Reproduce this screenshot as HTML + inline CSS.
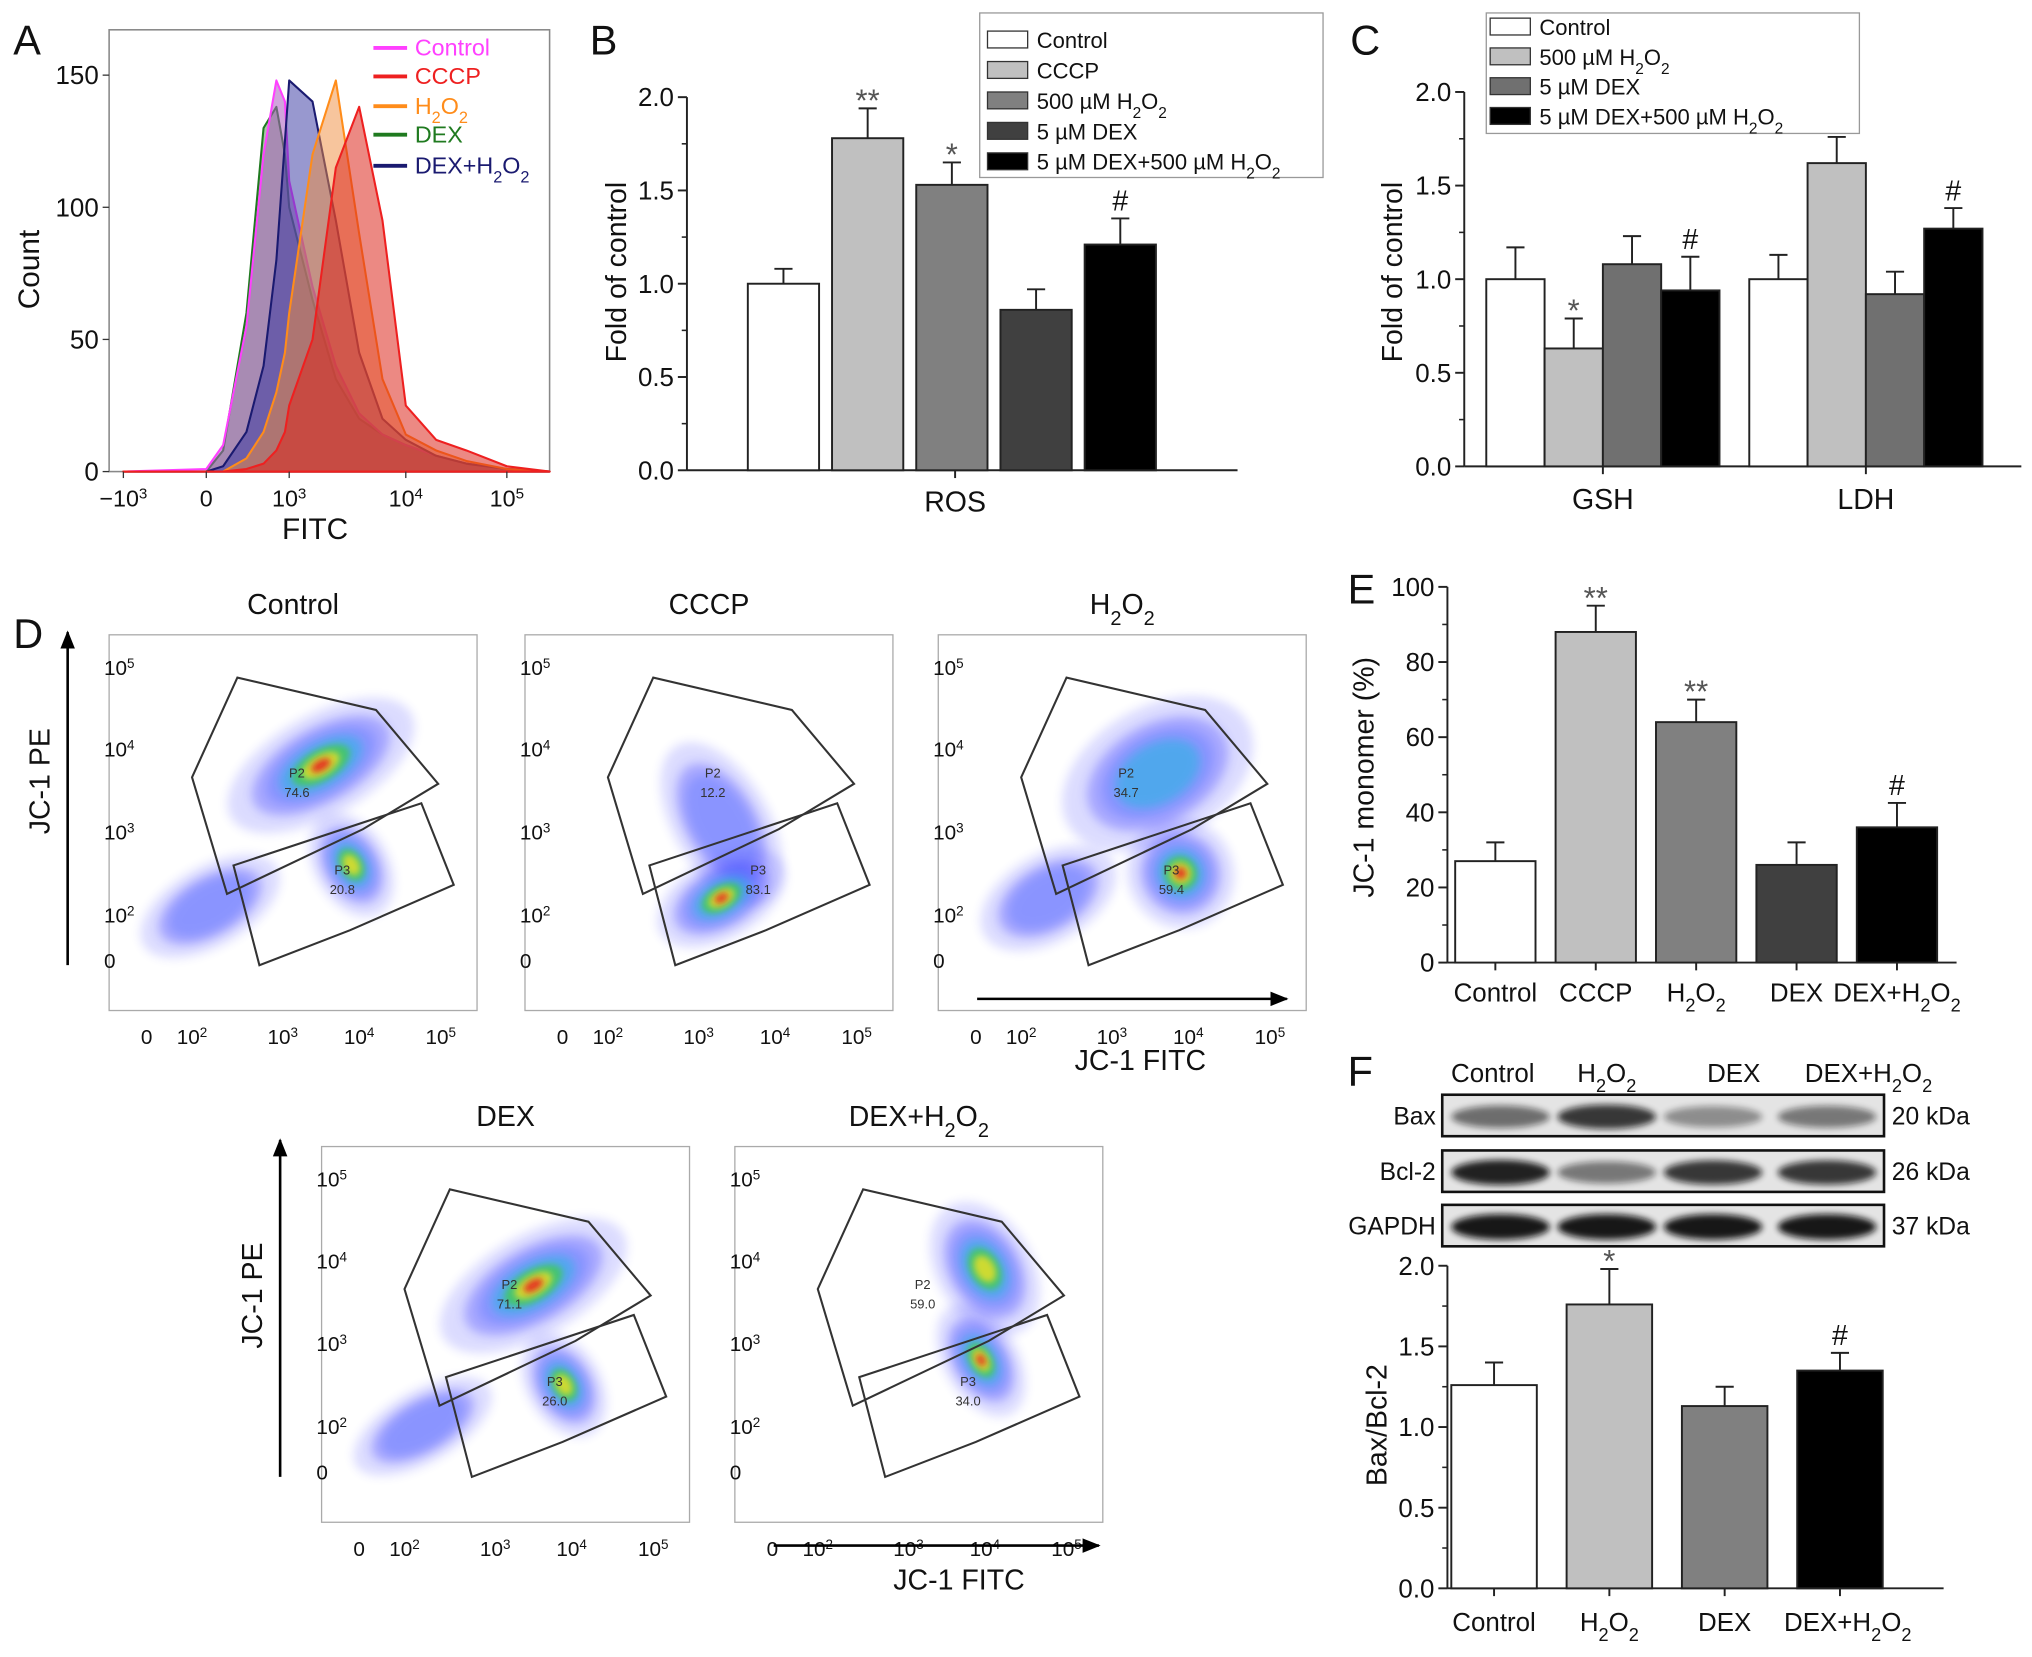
<!DOCTYPE html>
<html><head><meta charset="utf-8"><style>
html,body{margin:0;padding:0;background:#fff;}
svg{display:block;font-family:"Liberation Sans",Arial,sans-serif;}
</style></head>
<body>
<svg id="fig" width="2032" height="1657" viewBox="0 0 1568 1279" xmlns="http://www.w3.org/2000/svg">
<defs>
<filter id="blur2" x="-50%" y="-50%" width="200%" height="200%"><feGaussianBlur stdDeviation="2.5"/></filter>
<filter id="blur4" x="-50%" y="-50%" width="200%" height="200%"><feGaussianBlur stdDeviation="4"/></filter>
<marker id="arr" viewBox="0 0 10 10" refX="9" refY="5" markerWidth="7" markerHeight="7" orient="auto"><path d="M0,1 L10,5 L0,9 z" fill="#000"/></marker>
</defs>
</svg>
<script>
// ---------- Panel A data ----------
const aGridU = [-1,0,1,2,2.4,2.7,2.9,3.0,3.2,3.4,3.6,3.8,4.0,4.3,4.6,5.0,5.45];
const aSeriesNames = ['DEX','Control','DEX+H2O2','H2O2','CCCP'];
const aDex   = [0,0,8,60,130,138,120,100,65,35,20,14,10,6,3,1,0];
const aCtrl  = [0,1,10,55,120,148,140,110,70,40,22,14,10,6,3,1,0];
const aDexH  = [0,0,2,15,40,80,125,148,140,95,45,20,12,6,3,1,0];
const aH2O2  = [0,0,0,5,15,30,45,60,120,148,90,35,14,8,4,1,0];
const aCccp  = [0,0,0,1,3,8,15,25,50,115,138,95,25,12,8,2,0];
const aYTicks = [0,50,100,150];
const aXTickU = [-1,0,3,4,5];
const aXTickLabels = ['\u221210<tspan baseline-shift="super" font-size="65%">3</tspan>','0','10<tspan baseline-shift="super" font-size="65%">3</tspan>','10<tspan baseline-shift="super" font-size="65%">4</tspan>','10<tspan baseline-shift="super" font-size="65%">5</tspan>'];
// ---------- Panel B data ----------
const bCategories = ['Control','CCCP','500 µM H2O2','5 µM DEX','5 µM DEX+500 µM H2O2'];
const bValues = [1.0,1.78,1.53,0.86,1.21];
const bErrors = [0.08,0.16,0.12,0.11,0.14];
const bMarks  = ['','**','*','','#'];
const bYTicks = [0,0.5,1.0,1.5,2.0];
// ---------- Panel C data ----------
const cGroups = ['GSH','LDH'];
const cValues = [[1.0,0.63,1.08,0.94],[1.0,1.62,0.92,1.27]];
const cErrors = [[0.17,0.16,0.15,0.18],[0.13,0.14,0.12,0.11]];
const cMarks  = [['','*','','#'],['','*','','#']];
const cYTicks = [0,0.5,1.0,1.5,2.0];
// ---------- Panel E data ----------
const eCategories = ['Control','CCCP','H2O2','DEX','DEX+H2O2'];
const eValues = [27,88,64,26,36];
const eErrors = [5,7,6,6,6.5];
const eMarks  = ['','**','**','','#'];
const eYTicks = [0,20,40,60,80,100];
// ---------- Panel F data ----------
const fCategories = ['Control','H2O2','DEX','DEX+H2O2'];
const fValues = [1.26,1.76,1.13,1.35];
const fErrors = [0.14,0.22,0.12,0.11];
const fMarks  = ['','*','','#'];
const fYTicks = [0,0.5,1.0,1.5,2.0];
const fBax   = [0.55,0.8,0.4,0.5];
const fBcl2  = [0.9,0.5,0.8,0.8];
const fGapdh = [0.95,0.95,0.95,0.95];
// ---------- Panel D data (cluster: xDecade, yDecade, spreadX, spreadY, density) ----------
const dTitles = ['Control','CCCP','H2O2','DEX','DEX+H2O2'];
const dP2 = ['74.6','12.2','34.7','71.1','59.0'];
const dP3 = ['20.8','83.1','59.4','26.0','34.0'];
const dClusters = [
 [[2.2,2.1,0.9,0.5,0.2],[3.5,3.8,0.95,0.45,1],[3.9,2.6,0.35,0.5,0.85]],
 [[3.3,3.1,0.45,0.8,0.35],[3.3,2.2,0.65,0.45,1]],
 [[2.3,2.2,0.8,0.5,0.2],[3.6,3.7,0.95,0.6,0.55],[3.9,2.5,0.5,0.5,1]],
 [[2.2,2.0,0.9,0.5,0.2],[3.5,3.7,0.95,0.45,1],[3.9,2.5,0.35,0.5,0.85]],
 [[4.0,3.9,0.45,0.65,0.8],[3.95,2.8,0.35,0.55,1]]
];

const NS='http://www.w3.org/2000/svg';
const svg=document.getElementById('fig');
function el(tag,attrs,parent){const e=document.createElementNS(NS,tag);for(const k in attrs)e.setAttribute(k,attrs[k]);(parent||svg).appendChild(e);return e;}
function sub(s){return s.replace(/H2O2/g,'H<tspan baseline-shift="sub" font-size="70%">2</tspan>O<tspan baseline-shift="sub" font-size="70%">2</tspan>');}
function txt(x,y,s,size,anchor,parent,extra){const t=el('text',Object.assign({x:x,y:y,'font-size':size,'text-anchor':anchor||'middle',fill:'#111'},extra||{}),parent);t.innerHTML=s;return t;}
function interp(anch,v){for(let i=0;i<anch.length-1;i++){const a=anch[i],b=anch[i+1];if(v<=b[0]||i===anch.length-2){return a[1]+(v-a[0])/(b[0]-a[0])*(b[1]-a[1]);}}}

// panel letters
[['A',10,42],['B',455,42],['C',1042,42],['D',10,500],['E',1040,466],['F',1040,838]].forEach(p=>{
 const t=txt(p[1],p[2],p[0],32,'start');
 
 
});

// ================= Panel A =================
(function(){
 const g=el('g',{});
 
 
 const L=84,R=424,T=23,B=364;
 const xAnch=[[-1,95],[0,159],[1,172],[2,190],[3,223],[4,313],[5,391],[5.45,424]];
 const X=u=>interp(xAnch,u);
 const Y=v=>B-v*2.04;
 const fr=el('rect',{x:L,y:T,width:R-L,height:B-T,fill:'none',stroke:'#888','stroke-width':1.2},g);
 
 
 const series=[[aDex,'#1f7a1f','rgba(60,130,60,0.45)'],[aCtrl,'#ff40ff','rgba(170,90,190,0.55)'],[aDexH,'#1a1a70','rgba(50,50,160,0.5)'],[aH2O2,'#ff8c1a','rgba(240,140,60,0.5)'],[aCccp,'#ee2020','rgba(220,40,30,0.55)']];
 series.forEach((s,k)=>{
  let d='M'+X(aGridU[0])+','+Y(0);
  s[0].forEach((v,i)=>{d+=' L'+X(aGridU[i]).toFixed(1)+','+Y(v).toFixed(1);});
  d+=' L'+X(aGridU[aGridU.length-1])+','+Y(0)+' Z';
  const p=el('path',{d:d,fill:s[2],stroke:s[1],'stroke-width':1.6,'stroke-linejoin':'round'},g);
  
  
 });
 aYTicks.forEach(v=>{
  const tk=el('line',{x1:L-5,x2:L,y1:Y(v),y2:Y(v),stroke:'#333'},g);
  
  
  const t=txt(L-8,Y(v)+7,String(v),20,'end',g);
  
  
 });
 aXTickU.forEach((u,i)=>{
  const tk=el('line',{x1:X(u),x2:X(u),y1:B,y2:B+5,stroke:'#333'},g);
  
  
  const t=txt(X(u),B+27,aXTickLabels[i],18,'middle',g);
  
  
 });
 const xt=txt(243,416,'FITC',23,'middle',g);
 
 
 const yt=txt(0,0,'Count',23,'middle',g,{transform:'translate(30,208) rotate(-90)'});
 
 
 const leg=[['Control','#ff40ff'],['CCCP','#ee2020'],['H2O2','#ff8c1a'],['DEX','#1f7a1f'],['DEX+H2O2','#1a1a70']];
 const ly=[43,65,88,110,134];
 leg.forEach((l,i)=>{
  const ln=el('line',{x1:288,x2:314,y1:ly[i]-6,y2:ly[i]-6,stroke:l[1],'stroke-width':3},g);
  
  
  const t=txt(320,ly[i],sub(l[0]),18,'start',g,{fill:l[1]});
  
  
 });
})();

// ---------- generic bar chart ----------
function barAxes(g,ax,y0,ppu,ticks,fmt,xEnd){
 const yTop=y0-ticks[ticks.length-1]*ppu;
 const ya=el('line',{x1:ax,x2:ax,y1:y0,y2:yTop,stroke:'#222','stroke-width':1.5},g);
 
 
 const xa=el('line',{x1:ax,x2:xEnd,y1:y0,y2:y0,stroke:'#222','stroke-width':1.5},g);
 
 
 ticks.forEach((v,i)=>{
  const y=y0-v*ppu;
  const tk=el('line',{x1:ax-7,x2:ax,y1:y,y2:y,stroke:'#222','stroke-width':1.5},g);
  
  
  if(i<ticks.length-1){const ym=y0-(v+(ticks[1]-ticks[0])/2)*ppu;
   const mt=el('line',{x1:ax-4,x2:ax,y1:ym,y2:ym,stroke:'#222','stroke-width':1.2},g);
   
   }
  const t=txt(ax-10,y+7,fmt(v),20,'end',g);
  
  
 });
}
function drawBar(g,x,w,y0,ppu,val,err,fill,mark,name){
 const top=y0-val*ppu, etop=y0-(val+err)*ppu;
 const ev=el('line',{x1:x+w/2,x2:x+w/2,y1:top,y2:etop,stroke:'#222','stroke-width':1.5},g);
 
 
 const ec=el('line',{x1:x+w/2-7,x2:x+w/2+7,y1:etop,y2:etop,stroke:'#222','stroke-width':1.5},g);
 
 
 const r=el('rect',{x:x,y:top,width:w,height:val*ppu,fill:fill,stroke:'#222','stroke-width':1.5},g);
 
 
 if(mark){const t=txt(x+w/2,etop-(mark==='#'?6:-2),mark,mark==='#'?22:24,'middle',g,{fill:mark==='#'?'#111':'#555'});
  
  }
}
const fills5=['#ffffff','#c0c0c0','#808080','#404040','#000000'];

// ================= Panel B =================
(function(){
 const g=el('g',{});
 
 
 const y0=363,ppu=144,ax=530;
 barAxes(g,ax,y0,ppu,bYTicks,v=>v.toFixed(1),955);
 bValues.forEach((v,i)=>drawBar(g,577+i*65,55,y0,ppu,v,bErrors[i],fills5[i],bMarks[i],'bar-'+bCategories[i].toLowerCase().replace(/[^a-z0-9]+/g,'-')));
 const tk=el('line',{x1:737,x2:737,y1:y0,y2:y0+6,stroke:'#222','stroke-width':1.5},g);
 
 
 const xl=txt(737,395,'ROS',22,'middle',g);
 
 
 const yt=txt(0,0,'Fold of control',22,'middle',g,{transform:'translate(483,210) rotate(-90)'});
 
 
 const lb=el('rect',{x:756,y:10,width:265,height:127,fill:'#fff',stroke:'#999','stroke-width':1},g);
 
 
 const rows=['Control','CCCP','500 µM H2O2','5 µM DEX','5 µM DEX+500 µM H2O2'];
 rows.forEach((s,i)=>{const y=24+i*23.5;
  const sw=el('rect',{x:762,y:y,width:31,height:13,fill:fills5[i],stroke:'#333','stroke-width':1},g);
  
  
  const t=txt(800,y+13,sub(s),17,'start',g);
  
  });
})();

// ================= Panel C =================
(function(){
 const g=el('g',{});
 
 
 const y0=360,ppu=144.5,ax=1130;
 barAxes(g,ax,y0,ppu,cYTicks,v=>v.toFixed(1),1560);
 const fills4=['#ffffff','#c0c0c0','#707070','#000000'];
 const starts=[1147,1350];
 cGroups.forEach((grp,gi)=>{
  cValues[gi].forEach((v,i)=>drawBar(g,starts[gi]+i*45,45,y0,ppu,v,cErrors[gi][i],fills4[i],cMarks[gi][i],'bar-'+grp.toLowerCase()+'-'+i));
  const cx=starts[gi]+90;
  const tk=el('line',{x1:cx,x2:cx,y1:y0,y2:y0+6,stroke:'#222','stroke-width':1.5},g);
  
  
  const t=txt(cx,393,grp,22,'middle',g);
  
  
 });
 const yt=txt(0,0,'Fold of control',22,'middle',g,{transform:'translate(1082,210) rotate(-90)'});
 
 
 const lb=el('rect',{x:1147,y:10,width:288,height:93,fill:'#fff',stroke:'#999','stroke-width':1},g);
 
 
 const rows=['Control','500 µM H2O2','5 µM DEX','5 µM DEX+500 µM H2O2'];
 rows.forEach((s,i)=>{const y=14+i*23;
  const sw=el('rect',{x:1150,y:y,width:31,height:13,fill:fills4[i],stroke:'#333','stroke-width':1},g);
  
  
  const t=txt(1188,y+13,sub(s),17,'start',g);
  
  });
})();

// ================= Panel D =================
(function(){
 const frames=[[84,490],[405,490],[724,490],[248,885],[567,885]];
 const W=284,H=290;
 const xAnch=[[0,29],[2,64],[3,134],[4,193],[5,256]];
 const yAnch=[[0,251],[2,216],[3,152],[4,88],[5,25]];
 const upGate=[[64,110],[99,33],[206,58],[254,115],[196,150],[91,200]];
 const loGate=[[96,178],[241,130],[266,193],[186,228],[116,255]];
 const levels=[[1.35,'#4040ff',0.18,0],[1,'#3030ff',0.3,0],[0.8,'#4a6aff',0.3,0],[0.6,'#20b8e0',0.55,0.4],[0.42,'#40d040',0.7,0.6],[0.27,'#f0e020',0.8,0.75],[0.14,'#e82020',0.9,0.88]];
 frames.forEach((f,k)=>{
  const g=el('g',{transform:'translate('+f[0]+','+f[1]+')'});
  
  
  const X=u=>interp(xAnch,u), Y=u=>interp(yAnch,u);
  const fr=el('rect',{x:0,y:0,width:W,height:H,fill:'#fff',stroke:'#aaa','stroke-width':1},g);
  
  
  dClusters[k].forEach(c=>{
   const cx=X(c[0]),cy=Y(c[1]);
   const rx=(X(c[0]+c[2])-X(c[0]-c[2]))/2, ry=(Y(c[1]-c[3])-Y(c[1]+c[3]))/2;
   levels.forEach(l=>{ if(c[4]<l[3]) return;
    const e=el('ellipse',{cx:cx,cy:cy,rx:rx*l[0],ry:ry*l[0],fill:l[1],opacity:l[2],filter:l[0]>0.5?'url(#blur4)':'url(#blur2)',transform:'rotate(-30 '+cx+' '+cy+')'},g);
    
    
   });
  });
  const pu=el('polygon',{points:upGate.map(p=>p.join(',')).join(' '),fill:'none',stroke:'#333','stroke-width':1.6},g);
  
  
  const pl=el('polygon',{points:loGate.map(p=>p.join(',')).join(' '),fill:'none',stroke:'#333','stroke-width':1.6},g);
  
  
  [[145,110,'P2'],[145,125,dP2[k]],[180,185,'P3'],[180,200,dP3[k]]].forEach(a=>{
   const t=txt(a[0],a[1],a[2],10,'middle',g,{fill:'#333'});
   
   });
  const sup=n=>'10<tspan baseline-shift="super" font-size="65%">'+n+'</tspan>';
  [[5,sup(5)],[4,sup(4)],[3,sup(3)],[2,sup(2)],[0,'0']].forEach(a=>{
   const t=txt(-4,Y(a[0])+6,a[1],16,'start',g);
   
   });
  [[0,'0'],[2,sup(2)],[3,sup(3)],[4,sup(4)],[5,sup(5)]].forEach(a=>{
   const t=txt(X(a[0]),H+26,a[1],16,'middle',g);
   
   });
  const tt=txt(W/2,-16,sub(dTitles[k]),22,'middle',g);
  
  
 });
 const arrows=[[52,745,52,488],[216,1140,216,880],[754,771,993,771],[597,1193,848,1193]];
 arrows.forEach(a=>{
  const l=el('line',{x1:a[0],y1:a[1],x2:a[2],y2:a[3],stroke:'#000','stroke-width':2,'marker-end':'url(#arr)'});
  
  
 });
 [[38,603],[202,1000]].forEach(p=>{
  const t=txt(0,0,'JC-1 PE',22,'middle',null,{transform:'translate('+p[0]+','+p[1]+') rotate(-90)'});
  
  });
 [[880,826],[740,1227]].forEach(p=>{
  const t=txt(p[0],p[1],'JC-1 FITC',22,'middle');
  
  });
})();

// ================= Panel E =================
(function(){
 const g=el('g',{});
 
 
 const y0=743,ppu=2.9,ax=1117;
 barAxes(g,ax,y0,ppu,eYTicks,v=>String(v),1510);
 eValues.forEach((v,i)=>{
  const x=1123+i*77.5;
  drawBar(g,x,62,y0,ppu,v,eErrors[i],fills5[i],eMarks[i],'bar-'+eCategories[i].toLowerCase().replace('+','-'));
  const tk=el('line',{x1:x+31,x2:x+31,y1:y0,y2:y0+6,stroke:'#222','stroke-width':1.5},g);
  
  
  const t=txt(x+31,773,sub(eCategories[i]),20,'middle',g);
  
  
 });
 const yt=txt(0,0,'JC-1 monomer (%)',22,'middle',g,{transform:'translate(1060,600) rotate(-90)'});
 
 
})();

// ================= Panel F =================
(function(){
 const g=el('g',{});
 
 
 const laneX=[1152,1240,1338,1420];
 fCategories.forEach((c,i)=>{
  const t=txt(laneX[i]+(i===3?22:0),835,sub(c),20,'middle',g);
  
  });
 const strips=[['Bax',845,fBax,'20 kDa'],['Bcl-2',888,fBcl2,'26 kDa'],['GAPDH',930,fGapdh,'37 kDa']];
 const bandX=[1158,1240,1322,1410];
 strips.forEach(s=>{
  const r=el('rect',{x:1113,y:s[1],width:341,height:32,fill:'#e4e4e4',stroke:'#111','stroke-width':2},g);
  
  
  s[2].forEach((v,i)=>{
   const b=el('ellipse',{cx:bandX[i],cy:s[1]+17,rx:38,ry:7+v*3,fill:'#111',opacity:v,filter:'url(#blur2)'},g);
   
   });
  const l=txt(1108,s[1]+23,s[0],19,'end',g);
  
  
  const k=txt(1460,s[1]+23,s[3],19,'start',g);
  
  
 });
 const y0=1226,ppu=124.5,ax=1117;
 barAxes(g,ax,y0,ppu,fYTicks,v=>v.toFixed(1),1500);
 const f4=['#ffffff','#c0c0c0','#808080','#000000'];
 fValues.forEach((v,i)=>{
  const x=1120+i*89;
  drawBar(g,x,66,y0,ppu,v,fErrors[i],f4[i],fMarks[i],'bar-'+fCategories[i].toLowerCase().replace('+','-'));
  const tk=el('line',{x1:x+33,x2:x+33,y1:y0,y2:y0+6,stroke:'#222','stroke-width':1.5},g);
  
  
  const t=txt(x+33+(i===3?6:0),1259,sub(fCategories[i]),20,'middle',g);
  
  
 });
 const yt=txt(0,0,'Bax/Bcl-2',22,'middle',g,{transform:'translate(1070,1100) rotate(-90)'});
 
 
})();
</script>
</body></html>
